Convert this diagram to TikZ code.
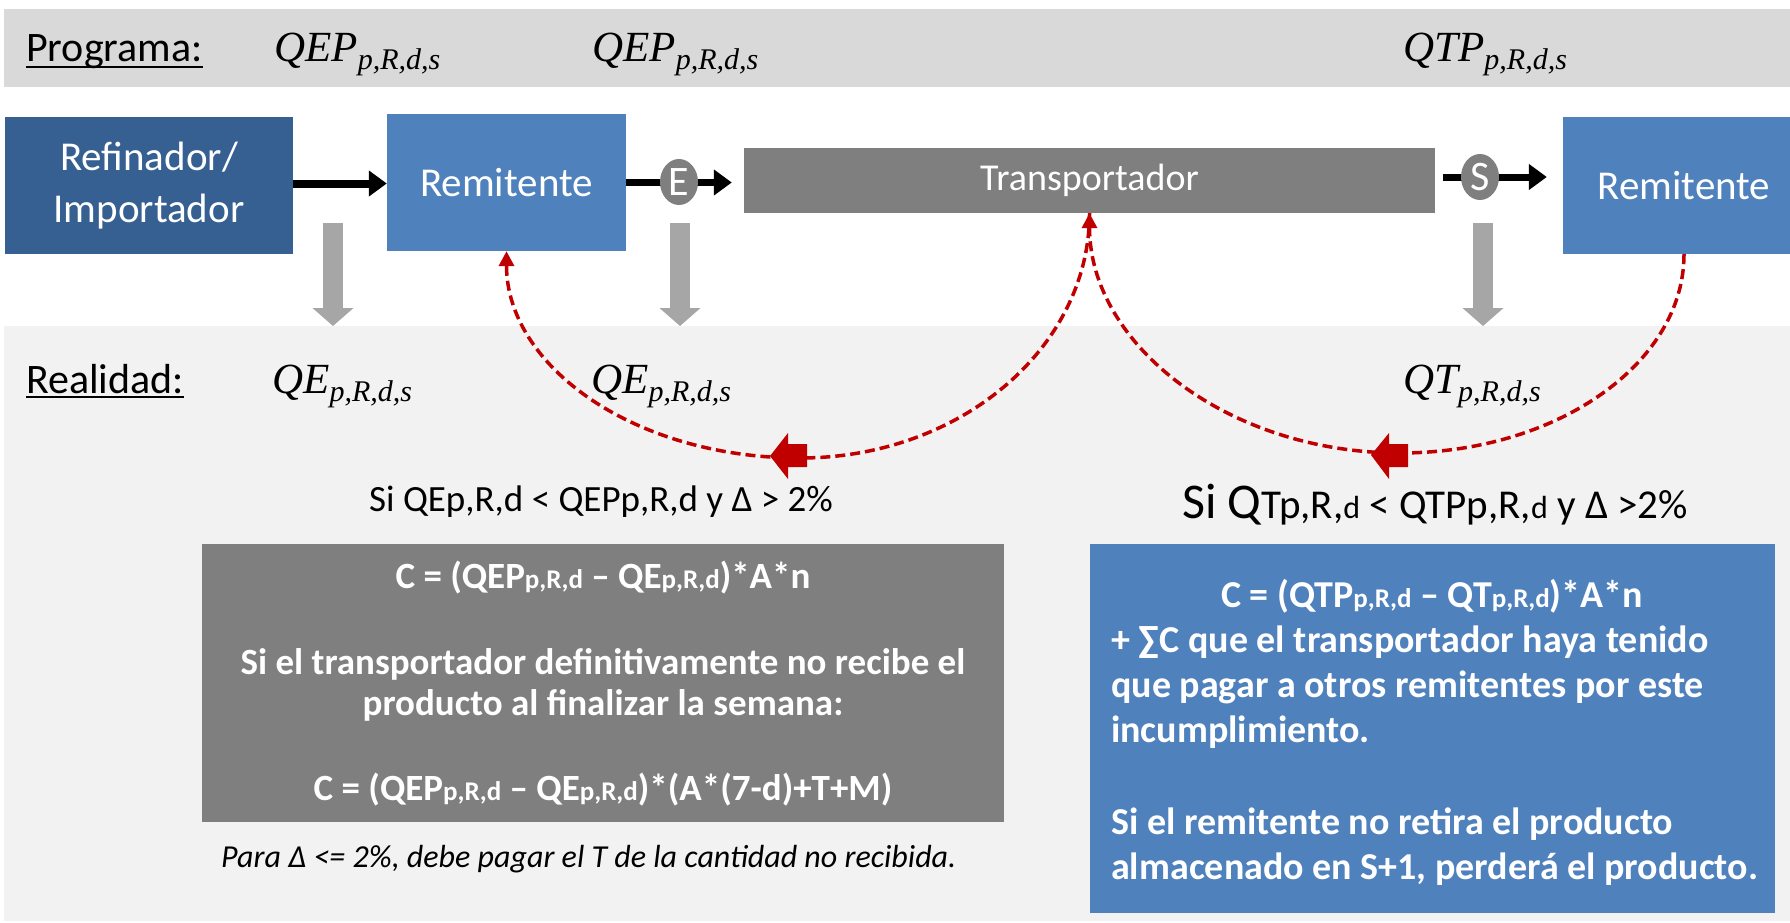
\documentclass[tikz,border=0pt]{standalone}
\usepackage{fontspec}
\setmainfont{Carlito}
\newfontfamily\mlike{Liberation Serif}
\usetikzlibrary{arrows.meta,shapes.geometric}
\definecolor{bandtop}{HTML}{D9D9D9}
\definecolor{bandbot}{HTML}{F2F2F2}
\definecolor{darkblue}{HTML}{376092}
\definecolor{midblue}{HTML}{4F81BD}
\definecolor{boxgray}{HTML}{7F7F7F}
\definecolor{arrgray}{HTML}{A6A6A6}
\definecolor{darkred}{HTML}{C00000}
\newcommand{\setfs}[2]{\fontsize{#1}{#2}\selectfont}
\newcommand{\smq}[1]{{\setfs{27}{32}#1}}
\newcommand{\smt}[1]{{\setfs{27}{32}#1}}
\newcommand{\qlab}[1]{{\mlike\itshape\setfs{43}{48}#1\raisebox{-8pt}{\setfs{30}{34}p,R,d,s}}}
\begin{document}
\begin{tikzpicture}[x=1pt,y=-1pt,
  box/.style={rectangle, inner sep=0pt, text=white, align=center},
  lbl/.style={inner sep=0pt, anchor=base west},
  ctr/.style={inner sep=0pt, anchor=base},
  blk/.style={line width=8pt, -{Triangle[length=18pt,width=25pt]}},
  grayarr/.style={arrgray, line width=20pt, -{Triangle[length=18pt,width=40pt]}},
  reddash/.style={darkred, line width=3.5pt, dash pattern=on 10pt off 5pt, -{Triangle[length=15pt,width=15pt]}},
  redblock/.style={fill=darkred, draw=none},
  bigtxt/.style={font=\setfs{42}{50}},
  leftln/.style={ctr, text=white, font=\bfseries\setfs{37}{44}},
  rightln/.style={lbl, text=white, font=\bfseries\setfs{38}{46}}
]
\useasboundingbox (0,0) rectangle (1790,923);
% bands
\fill[bandtop] (4,9) rectangle (1790,87);
\fill[bandbot] (4,326) rectangle (1790,921);
% boxes
\node[box, fill=darkblue, minimum width=288pt, minimum height=137pt, font=\setfs{41}{52}] (ref) at (149,185.5) {Refinador/\\Importador};
\node[box, fill=midblue, minimum width=239pt, minimum height=137pt, font=\setfs{41}{48}] (rem1) at (506.5,182.5) {Remitente};
\node[box, fill=boxgray, minimum width=691pt, minimum height=65pt, font=\setfs{38}{43}] (trans) at (1089.5,180.5) {Transportador};
\node[box, fill=midblue, minimum width=242pt, minimum height=137pt, font=\setfs{41}{48}] (rem2) at (1684,185.5) {Remitente};
\node[box, fill=boxgray, minimum width=802pt, minimum height=278pt] (costE) at (603,683) {};
\node[box, fill=midblue, minimum width=685pt, minimum height=369pt] (costT) at (1432.5,728.5) {};
% black flow arrows
\draw[blk] ([yshift=2pt]ref.east) -- ([yshift=2pt]ref.east -| rem1.west);
\draw[blk, line width=7pt, shorten >=12pt] (rem1.east) -- (rem1.east -| trans.west);
\draw[blk, line width=7pt, shorten <=8pt, shorten >=16pt] ([yshift=3.5pt]trans.east) -- ([yshift=3.5pt]trans.east -| rem2.west);
\node[ellipse, fill=boxgray, minimum width=38pt, minimum height=46pt, inner sep=0pt, text=white, font=\setfs{42}{48}] (E) at (679,182) {E};
\node[ellipse, fill=boxgray, minimum width=38pt, minimum height=46pt, inner sep=0pt, text=white, font=\setfs{42}{48}] (S) at (1480,177) {S};
% gray down arrows
\coordinate (g1a) at (333,223); \coordinate (g1b) at (333,326);
\coordinate (g2a) at (680,223); \coordinate (g2b) at (680,326);
\coordinate (g3a) at (1483,223); \coordinate (g3b) at (1483,326);
\draw[grayarr] (g1a) -- (g1b);
\draw[grayarr] (g2a) -- (g2b);
\draw[grayarr] (g3a) -- (g3b);
% red dashed feedback curves
\coordinate (low1) at (800,458);
\coordinate (low2) at (1400,453);
\draw[reddash] (trans.south) .. controls (1089.5,348) and (960,458) .. (low1) .. controls (634,458) and (506.5,366) .. (rem1.south);
\draw[reddash] (rem2.south) .. controls (1684,364) and (1556,453) .. (low2) .. controls (1229,453) and (1089.5,345) .. (trans.south);
\fill[redblock] (770,456) -- (788,433) -- (788,444) -- (807,444) -- (807,467) -- (788,467) -- (788,479) -- cycle;
\fill[redblock] (1371,455) -- (1389,433) -- (1389,444) -- (1408,444) -- (1408,467) -- (1389,467) -- (1389,479) -- cycle;
% top labels
\node[lbl, bigtxt] (prog) at (26,62) {Programa:};
\draw[line width=2pt] ([yshift=-5pt]prog.base west) -- ([yshift=-5pt]prog.base east);
\node[lbl] (qep1) at (274,62) {\qlab{QEP}};
\node[lbl] (qep2) at (592,62) {\qlab{QEP}};
\node[lbl] (qtp) at (1403,62) {\qlab{QTP}};
% reality labels
\node[lbl, bigtxt] (real) at (26,393) {Realidad:};
\draw[line width=2pt] ([yshift=-4pt]real.base west) -- ([yshift=-4pt]real.base east);
\node[lbl] (qe1) at (272,393) {\qlab{QE}};
\node[lbl] (qe2) at (591,393) {\qlab{QE}};
\node[lbl] (qt) at (1403,393) {\qlab{QT}};
% conditions
\node[ctr, font=\setfs{37}{44}] (cond1) at (601,511) {Si QEp,R,d < QEPp,R,d y Δ > 2\%};
\node[lbl, font=\setfs{41}{48}] (cond2) at (1182,518) {{\setfs{50}{54}Si Q}Tp,R,{\setfs{32}{36}d} < QTPp,R,{\setfs{32}{36}d} y Δ >2\%};
% left box text
\node[leftln] (l1) at (603,588) {C = (QEP\smq{p,R,d} – QE\smq{p,R,d})*A*n};
\node[leftln] (l2) at (603,674) {Si el transportador definitivamente no recibe el};
\node[leftln] (l3) at (603,715) {producto al finalizar la semana:};
\node[leftln] (l4) at (603,800) {C = (QEP\smq{p,R,d} – QE\smq{p,R,d})*(A*(7-d)+T+M)};
\node[lbl, font=\itshape\setfs{32}{38}] (note) at (221,867) {Para Δ <= 2\%, debe pagar el T de la cantidad no recibida.};
% right box text
\node[ctr, text=white, font=\bfseries\setfs{38}{46}] (r1) at (1432,607) {C = (QTP\smt{p,R,d} – QT\smt{p,R,d})*A*n};
\node[rightln] (r2) at (1111,652) {+ ∑C que el transportador haya tenido};
\node[rightln] (r3) at (1111,697) {que pagar a otros remitentes por este};
\node[rightln] (r4) at (1111,742) {incumplimiento.};
\node[rightln] (r5) at (1111,834) {Si el remitente no retira el producto};
\node[rightln] (r6) at (1111,879) {almacenado en S+1, perderá el producto.};
\end{tikzpicture}
\end{document}
